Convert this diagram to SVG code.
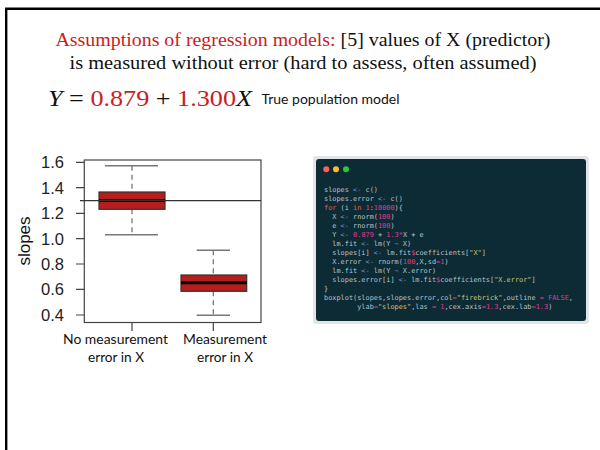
<svg xmlns="http://www.w3.org/2000/svg" width="600" height="450" viewBox="0 0 600 450">
<style>
.serif{font-family:"Liberation Serif","Times New Roman",serif;font-size:18px;fill:#111}
.red{fill:#c81e1e}
.eq{font-family:"Liberation Serif",serif;font-size:24px;fill:#111}
.sans{font-family:Lato,"Liberation Sans",sans-serif;fill:#111}
.tick{font-family:"Liberation Sans",Arial,sans-serif;font-size:16.5px;fill:#222;text-anchor:end}
.ax{stroke:#444;stroke-width:1.2;fill:none}
.wh{stroke:#777;stroke-width:1.3;stroke-dasharray:5,4}
.cap{stroke:#777;stroke-width:1.5}
.box{fill:#b91c1c;stroke:#333;stroke-width:1.2}
.med{stroke:#000;stroke-width:3}
.code{font-family:"DejaVu Sans Mono","Liberation Mono",monospace;font-size:6.9px;fill:#b7c3cc;white-space:pre}
.op{fill:#7f93d8}.kw{fill:#e85a4f}.nm{fill:#e2388f}.st{fill:#cfc677}
</style>
<rect width="600" height="450" fill="#fff"/>
<g id="frame" fill="none" stroke="#000" stroke-width="2.4">
<path d="M6.2,452 V8.7 H602"/>
</g>
<g id="title">
<text class="serif" x="303" y="46" text-anchor="middle" textLength="495" lengthAdjust="spacingAndGlyphs"><tspan class="red">Assumptions of regression models:</tspan> [5] values of X (predictor)</text>
<text class="serif" x="303" y="69" text-anchor="middle" textLength="467" lengthAdjust="spacingAndGlyphs">is measured without error (hard to assess, often assumed)</text>
</g>
<g id="equation">
<text class="eq" x="48" y="106" textLength="204" lengthAdjust="spacingAndGlyphs"><tspan font-style="italic">Y</tspan> = <tspan class="red">0.879</tspan> + <tspan class="red">1.300</tspan><tspan font-style="italic">X</tspan></text>
<text class="sans" x="261.5" y="104" font-size="14" textLength="138" lengthAdjust="spacingAndGlyphs">True population model</text>
</g>
<g id="boxplot">
<rect class="ax" x="84.3" y="160" width="176.7" height="162.5"/>
<g class="ax">
<path d="M76,162.3H84.3M76,187.7H84.3M76,213.3H84.3M76,238.7H84.3M76,264H84.3M76,289.3H84.3M76,315H84.3"/>
<path d="M132,322.5V331M213.3,322.5V331"/>
</g>
<g>
<text class="tick" x="64" y="168.3">1.6</text>
<text class="tick" x="64" y="193.7">1.4</text>
<text class="tick" x="64" y="219.3">1.2</text>
<text class="tick" x="64" y="244.7">1.0</text>
<text class="tick" x="64" y="270">0.8</text>
<text class="tick" x="64" y="295.3">0.6</text>
<text class="tick" x="64" y="321">0.4</text>
</g>
<text font-family="Liberation Sans,Arial,sans-serif" font-size="17" fill="#111" text-anchor="middle" transform="translate(30,241) rotate(-90)">slopes</text>
<g id="box1">
<line class="wh" x1="132" y1="165.7" x2="132" y2="192"/>
<line class="wh" x1="132" y1="209.3" x2="132" y2="234.7"/>
<line class="cap" x1="105" y1="165.7" x2="158" y2="165.7"/>
<line class="cap" x1="105" y1="234.7" x2="158" y2="234.7"/>
<rect class="box" x="99" y="192" width="66" height="17.3"/>
<line class="med" x1="99" y1="200.5" x2="165" y2="200.5"/>
</g>
<g id="box2">
<line class="wh" x1="213.3" y1="250.3" x2="213.3" y2="275"/>
<line class="wh" x1="213.3" y1="291.3" x2="213.3" y2="315.3"/>
<line class="cap" x1="196.7" y1="250.3" x2="230" y2="250.3"/>
<line class="cap" x1="196.7" y1="315.3" x2="230" y2="315.3"/>
<rect class="box" x="181" y="275" width="65.7" height="16.3"/>
<line class="med" x1="181" y1="282.7" x2="246.7" y2="282.7"/>
</g>
<line stroke="#333" stroke-width="1.2" x1="80" y1="200.7" x2="261" y2="200.7"/>
<text class="sans" x="63" y="344" font-size="14" textLength="105" lengthAdjust="spacingAndGlyphs">No measurement</text>
<text class="sans" x="88" y="362" font-size="14" textLength="56" lengthAdjust="spacingAndGlyphs">error in X</text>
<text class="sans" x="183" y="344" font-size="14" textLength="84" lengthAdjust="spacingAndGlyphs">Measurement</text>
<text class="sans" x="197" y="362" font-size="14" textLength="56" lengthAdjust="spacingAndGlyphs">error in X</text>
</g>
<g id="code">
<rect x="313" y="156" width="276" height="168" rx="3" fill="#cfd4d8" opacity="0.6"/>
<rect x="316" y="159" width="270" height="162" rx="3" fill="#0c2b35"/>
<circle cx="326.3" cy="169.3" r="3" fill="#ff5f56"/>
<circle cx="336" cy="169.3" r="3" fill="#ffbd2e"/>
<circle cx="346" cy="169.3" r="3" fill="#27c93f"/>
<text class="code" x="324" y="192">slopes <tspan class="op">&lt;-</tspan> c()</text>
<text class="code" x="324" y="201">slopes.error <tspan class="op">&lt;-</tspan> c()</text>
<text class="code" x="324" y="210"><tspan class="kw">for</tspan> (i <tspan class="kw">in</tspan> <tspan class="nm">1</tspan>:<tspan class="nm">10000</tspan>){</text>
<text class="code" x="324" y="219">  X <tspan class="op">&lt;-</tspan> rnorm(<tspan class="nm">100</tspan>)</text>
<text class="code" x="324" y="228">  e <tspan class="op">&lt;-</tspan> rnorm(<tspan class="nm">100</tspan>)</text>
<text class="code" x="324" y="237">  Y <tspan class="op">&lt;-</tspan> <tspan class="nm">0.879</tspan> + <tspan class="nm">1.3</tspan><tspan class="nm">*</tspan>X + e</text>
<text class="code" x="324" y="246">  lm.fit <tspan class="op">&lt;-</tspan> lm(Y <tspan class="op">~</tspan> X)</text>
<text class="code" x="324" y="255">  slopes[i] <tspan class="op">&lt;-</tspan> lm.fit<tspan class="nm">$</tspan>coefficients[<tspan class="st">"X"</tspan>]</text>
<text class="code" x="324" y="264">  X.error <tspan class="op">&lt;-</tspan> rnorm(<tspan class="nm">100</tspan>,X,sd<tspan class="nm">=</tspan><tspan class="nm">1</tspan>)</text>
<text class="code" x="324" y="273">  lm.fit <tspan class="op">&lt;-</tspan> lm(Y <tspan class="op">~</tspan> X.error)</text>
<text class="code" x="324" y="282">  slopes.error[i] <tspan class="op">&lt;-</tspan> lm.fit<tspan class="nm">$</tspan>coefficients[<tspan class="st">"X.error"</tspan>]</text>
<text class="code" x="324" y="291">}</text>
<text class="code" x="324" y="300">boxplot(slopes,slopes.error,col<tspan class="nm">=</tspan><tspan class="st">"firebrick"</tspan>,outline <tspan class="nm">=</tspan> <tspan class="nm">FALSE</tspan>,</text>
<text class="code" x="324" y="309">        ylab<tspan class="nm">=</tspan><tspan class="st">"slopes"</tspan>,las <tspan class="nm">=</tspan> <tspan class="nm">1</tspan>,cex.axis<tspan class="nm">=</tspan><tspan class="nm">1.3</tspan>,cex.lab<tspan class="nm">=</tspan><tspan class="nm">1.3</tspan>)</text>
</g>
</svg>
